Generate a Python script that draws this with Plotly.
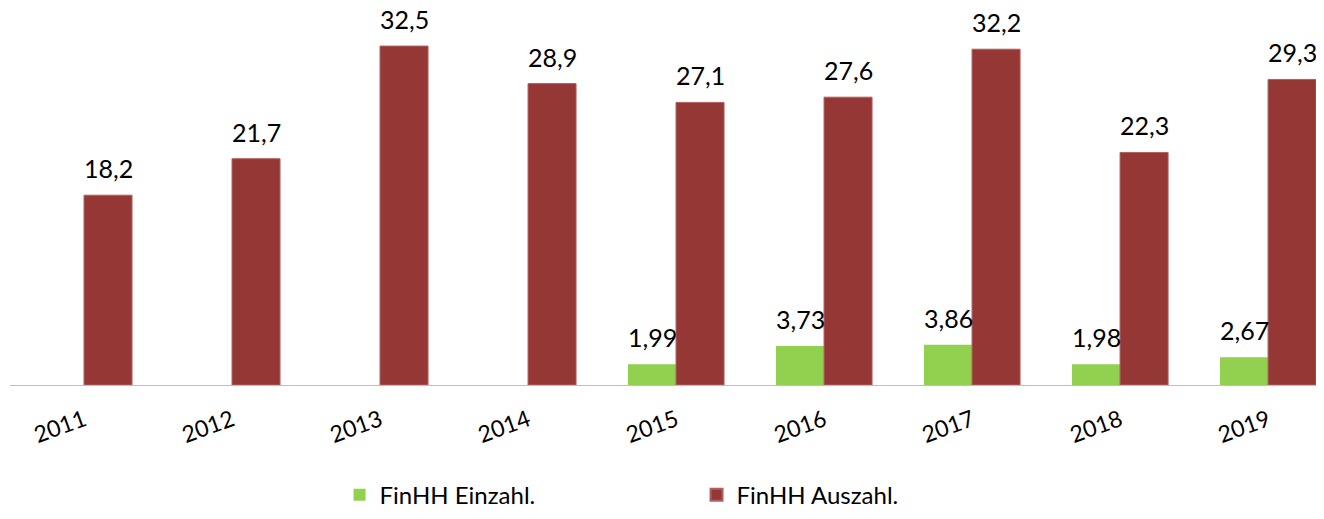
import plotly.graph_objects as go

years = ["2011", "2012", "2013", "2014", "2015", "2016", "2017", "2018", "2019"]
einzahl = [None, None, None, None, 1.99, 3.73, 3.86, 1.98, 2.67]
auszahl = [18.2, 21.7, 32.5, 28.9, 27.1, 27.6, 32.2, 22.3, 29.3]

GREEN = "#92D050"
RED = "#953735"

fig = go.Figure()
fig.add_trace(go.Bar(
    x=years, y=einzahl, name="FinHH Einzahl.",
    marker=dict(color=GREEN, line=dict(width=0)),
))
fig.add_trace(go.Bar(
    x=years, y=auszahl, name="FinHH Auszahl.",
    marker=dict(color=RED, line=dict(width=1, color="#B06060")),
))

LABEL_FONT = dict(size=25, color="black", family="Lato")
annotations = []
for i, v in enumerate(einzahl):
    if v is not None:
        annotations.append(dict(
            x=i, y=v, xref="x", yref="y", text=f"{v:.2f}".replace(".", ","),
            showarrow=False, xshift=-24, yshift=11, yanchor="bottom",
            borderpad=0, font=LABEL_FONT,
        ))
for i, v in enumerate(auszahl):
    annotations.append(dict(
        x=i, y=v, xref="x", yref="y", text=f"{v:.1f}".replace(".", ","),
        showarrow=False, xshift=24, yshift=11, yanchor="bottom",
        borderpad=0, font=LABEL_FONT,
    ))

fig.update_layout(
    width=1316, height=511,
    margin=dict(l=2, r=0, t=0, b=134, autoexpand=False),
    paper_bgcolor="white", plot_bgcolor="white",
    separators=",.",
    barmode="group", bargap=0.351, bargroupgap=0,
    showlegend=True,
    annotations=annotations,
    legend=dict(
        orientation="h", x=0.5225, xanchor="center", y=-0.352, yanchor="bottom",
        font=dict(size=24, color="black", family="Lato"),
        entrywidth=312, entrywidthmode="pixels",
        itemsizing="constant",
    ),
    xaxis=dict(
        type="category",
        range=[-0.5, 8.378], showline=True, linecolor="#BFBFBF", linewidth=1,
        ticks="", tickangle=-20, automargin=False, ticklabelstandoff=12,
        tickfont=dict(size=23, color="black", family="Lato"),
        showgrid=False, zeroline=False,
    ),
    yaxis=dict(
        range=[0, 36.15], visible=False, showgrid=False, zeroline=False,
        automargin=False,
    ),
)

fig.write_html("out.html")
